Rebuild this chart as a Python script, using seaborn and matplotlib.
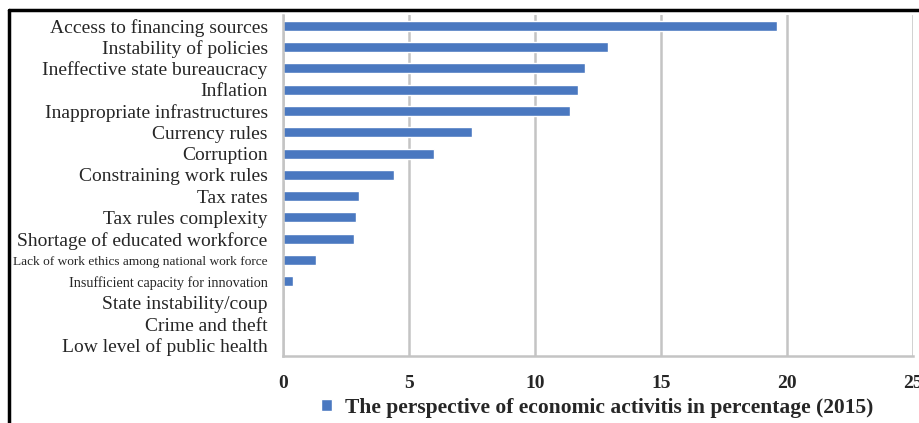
import pandas as pd
import seaborn as sns
import matplotlib.pyplot as plt

# Values
categories = [
    "Access to financing sources",
    "Instability of policies",
    "Ineffective state bureaucracy",
    "Inflation",
    "Inappropriate infrastructures",
    "Currency rules",
    "Corruption",
    "Constraining work rules",
    "Tax rates",
    "Tax rules complexity",
    "Shortage of educated workforce",
    "Lack of work ethics among national work force",
    "Insufficient capacity for innovation",
    "State instability/coup",
    "Crime and theft",
    "Low level of public health",
]
values = [19.6, 12.9, 12.0, 11.7, 11.4, 7.5, 6.0, 4.4, 3.0, 2.9, 2.8, 1.3, 0.4, 0, 0, 0]
xticks = [0, 5, 10, 15, 20, 25]
legend_label = "The perspective of economic activitis in percentage (2015)"

df = pd.DataFrame({"factor": categories, "value": values})

sns.set_style("white")
plt.rcParams["font.family"] = ["Liberation Serif", "DejaVu Serif"]

fig = plt.figure(figsize=(9.19, 4.23), dpi=100)
ax = fig.add_axes([283 / 919, 1 - 356 / 423, (913 - 283) / 919, (356 - 15) / 423])

sns.barplot(data=df, y="factor", x="value", orient="h", color="#4a78c0",
            saturation=1, width=0.47, ax=ax, label=legend_label)

ax.set_xlim(0, 25)
ax.set_xticks(xticks)
ax.set_xlabel("")
ax.set_ylabel("")
ax.grid(axis="x", color="#c4c4c4", linewidth=1.8)
ax.set_axisbelow(True)
for side in ["top", "right"]:
    ax.spines[side].set_visible(False)
for side in ["left", "bottom"]:
    ax.spines[side].set_color("#c4c4c4")
    ax.spines[side].set_linewidth(1.8)

ax.tick_params(axis="x", length=5, width=1.8, color="#c4c4c4", pad=9, labelsize=14)
for lbl in ax.get_xticklabels():
    lbl.set_fontweight("bold")
ax.tick_params(axis="y", length=0, pad=11, labelsize=14)
for lbl in ax.get_yticklabels():
    if lbl.get_text().startswith("Lack"):
        lbl.set_fontsize(9.6)
    elif lbl.get_text().startswith("Insufficient"):
        lbl.set_fontsize(10.2)

handles, labels = ax.get_legend_handles_labels()
if ax.get_legend() is not None:
    ax.get_legend().remove()
fig.legend(handles, labels, loc="center", bbox_to_anchor=(597 / 919, 1 - 408 / 423),
           frameon=False, prop={"weight": "bold", "size": 15.5},
           handlelength=0.5, handleheight=0.5, handletextpad=0.6)

# black frame of the original figure (top and left edges)
fig.add_artist(plt.Line2D([9 / 919, 1], [1 - 10 / 423] * 2, color="black", linewidth=2.5))
fig.add_artist(plt.Line2D([9 / 919] * 2, [0, 1 - 10 / 423], color="black", linewidth=2.5))

fig.savefig("out.png", dpi=100)
